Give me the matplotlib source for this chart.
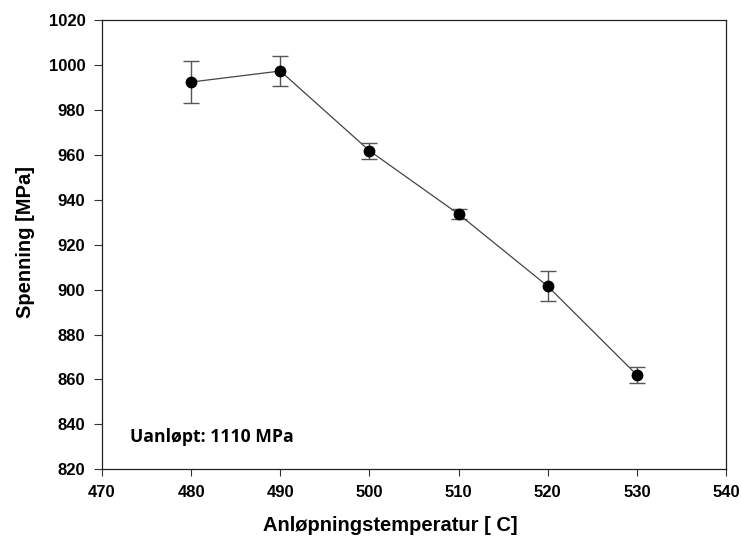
import matplotlib
matplotlib.use('Agg')
import matplotlib.pyplot as plt

# --- Data ---
temperature = [480, 490, 500, 510, 520, 530]
stress      = [992.4, 997.3, 961.8, 933.6, 901.5, 862.0]
stress_err  = [9.3, 6.5, 3.6, 2.2, 6.6, 3.6]

plt.rcParams['font.family'] = ['Liberation Sans', 'DejaVu Sans']

fig = plt.figure(figsize=(7.41, 5.44), dpi=100)
ax = fig.add_axes([0.1377, 0.1373, 0.8421, 0.8259])

ax.errorbar(temperature, stress, yerr=stress_err, fmt='none',
            ecolor='#555555', elinewidth=1.0, capsize=6, capthick=1.0, zorder=2)
ax.plot(temperature, stress, color='#444444', linewidth=0.9, zorder=3)
ax.plot(temperature, stress, 'o', color='black', markersize=7.5, zorder=4)

ax.set_xlim(470, 540)
ax.set_ylim(820, 1020)
ax.set_xticks(range(470, 541, 10))
ax.set_yticks(range(820, 1021, 20))
ax.tick_params(axis='y', direction='out', length=6, width=0.8, pad=6,
               labelsize=12, colors='#333333', labelcolor='black')
ax.tick_params(axis='x', direction='out', length=5, width=0.8, pad=6,
               labelsize=12, colors='#333333', labelcolor='black')
for lab in ax.get_xticklabels() + ax.get_yticklabels():
    lab.set_fontweight('bold')
for sp in ax.spines.values():
    sp.set_linewidth(0.9)
    sp.set_color('#222222')

ax.set_xlabel('Anløpningstemperatur [ C]', fontsize=14.5, fontweight='bold')
ax.set_ylabel('Spenning [MPa]', fontsize=14.5, fontweight='bold')
ax.xaxis.set_label_coords(0.4615, -0.105)
ax.yaxis.set_label_coords(-0.108, 0.505)

ax.text(0.045, 0.072, 'Uanløpt: 1110 MPa', transform=ax.transAxes,
        fontsize=12.7, fontweight='bold', family=['Open Sans', 'DejaVu Sans'],
        ha='left', va='center')

fig.savefig('out.png', dpi=100)
